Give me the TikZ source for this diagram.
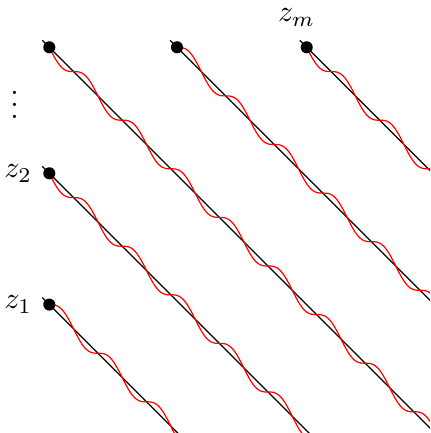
\documentclass[tikz,border=0pt]{standalone}
\begin{document}
\begin{tikzpicture}[x=0.331pt,y=-0.331pt,
  dot/.style={circle,fill=black,inner sep=0pt,minimum size=4pt},
  blackline/.style={draw=black,line width=0.4pt},
  wave/.style={draw=red,line width=0.4pt}]
\path[use as bounding box] (0,0) rectangle (430,433);
\begin{scope}
\clip (0,0) rectangle (430,433);
\foreach \n/\px/\py/\sg in {A/49.3/47.3/1, B/177/47.3/-1, C/306.7/47.3/1, D/49.3/173.3/1, E/49.3/304.6/-1}{
  \coordinate (\n s) at (\px-7,\py-7);
  \coordinate (\n e) at (\px+450,\py+450);
  \draw[blackline] (\n s) -- (\n e);
  \draw[wave] plot[domain=0:400,samples=500,smooth] ({\px+\x},{\py+\x+\sg*7.73*sin(7.4074*\x)});
}
\end{scope}
\node[dot] (A) at (49.3,47.3) {};
\node[dot] (B) at (177,47.3) {};
\node[dot] (C) at (306.7,47.3) {};
\node[dot] (D) at (49.3,173.3) {};
\node[dot] (E) at (49.3,304.6) {};
\node[anchor=base] (zm) at (296.5,21.7) {$z_m$};
\node[anchor=east] (z2) at (D.west) {$z_2$};
\node[anchor=east] (z1) at (E.west) {$z_1$};
\node[anchor=base] (vd) at (14.5,119) {$\vdots$};
\end{tikzpicture}
\end{document}
